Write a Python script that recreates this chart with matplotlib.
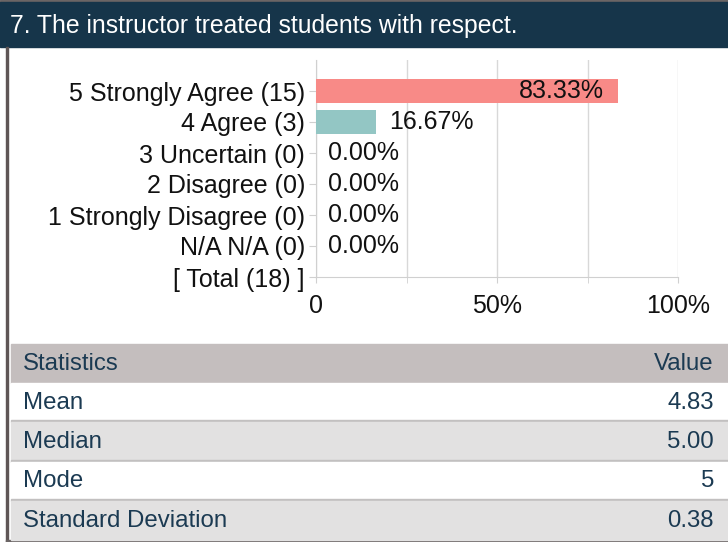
import matplotlib
matplotlib.use("Agg")
import matplotlib.pyplot as plt
from matplotlib.patches import Rectangle

categories = ["5 Strongly Agree (15)", "4 Agree (3)", "3 Uncertain (0)", "2 Disagree (0)",
              "1 Strongly Disagree (0)", "N/A N/A (0)", "[ Total (18) ]"]
percents = [83.33, 16.67, 0.0, 0.0, 0.0, 0.0, None]
bar_colors = ["#f88a87", "#93c6c4", "#f88a87", "#f88a87", "#f88a87", "#f88a87", "#f88a87"]
xticks = [0, 50, 100]
xticklabels = ["0", "50%", "100%"]
title = "7. The instructor treated students with respect."
stat_names = ["Mean", "Median", "Mode", "Standard Deviation"]
stat_values = ["4.83", "5.00", "5", "0.38"]

font = "Liberation Sans"

W, H = 728, 542
fig = plt.figure(figsize=(W / 100, H / 100), dpi=100)
fig.patch.set_facecolor("white")

def fx(x):
    return x / W

def fy(y):
    return 1 - y / H

# background decorations
bg = fig.add_axes([0, 0, 1, 1])
bg.set_xlim(0, W)
bg.set_ylim(H, 0)
bg.axis("off")
bg.add_patch(Rectangle((0, 0), W, 2, color="#6b6565"))
bg.add_patch(Rectangle((0, 2), W, 45, color="#16354a"))
bg.text(10, 26, title, color="white", fontsize=17.8, family=font, va="center", ha="left")
bg.add_patch(Rectangle((6, 47), 2, H - 47, color="#5f5656"))
bg.add_patch(Rectangle((6, 540), W, 2, color="#6b6565"))

# statistics table
txt_col = "#1b3a52"
tfs = 17.3
bg.add_patch(Rectangle((11, 344), W - 11, 39, color="#c4bebe"))
bg.text(23, 364, "Statistics", color=txt_col, fontsize=tfs, family=font, va="center")
bg.text(714, 364, "Value", color=txt_col, fontsize=tfs, family=font, va="center", ha="right")
row_top = 383
row_h = 39.3
for i, (n, v) in enumerate(zip(stat_names, stat_values)):
    y0 = row_top + i * row_h
    col = "white" if i % 2 == 0 else "#e2e1e1"
    bg.add_patch(Rectangle((11, y0), W - 11, row_h, color=col))
    if i < len(stat_names) - 1:
        bg.add_patch(Rectangle((11, y0 + row_h - 2), W - 11, 2, color="#c2c0c0"))
    bg.text(23, y0 + row_h / 2, n, color=txt_col, fontsize=tfs, family=font, va="center")
    bg.text(714, y0 + row_h / 2, v, color=txt_col, fontsize=tfs, family=font, va="center", ha="right")

# bar chart
fs = 18
ax = fig.add_axes([fx(316), fy(277), fx(678 - 316), (277 - 60) / H])
ypos = list(range(len(categories)))
vals = [p if p is not None else 0 for p in percents]
ax.barh(ypos, vals, height=0.75, color=bar_colors, zorder=3)
ax.set_ylim(6, -1)
ax.set_xlim(0, 100)
ax.set_yticks(ypos)
ax.set_yticklabels(categories, fontsize=fs, family=font, color="#111111")
ax.set_xticks(xticks)
ax.set_xticklabels(xticklabels, fontsize=fs, family=font, color="#111111")
ax.set_xticks([25, 75], minor=True)
ax.grid(True, axis="x", which="both", color="#d8d8d8", linewidth=1, zorder=0)
for s in ["top", "right"]:
    ax.spines[s].set_visible(False)
ax.spines["left"].set_color("#d0d0d0")
ax.spines["bottom"].set_color("#d0d0d0")
ax.tick_params(axis="y", length=5, color="#d0d0d0", pad=3)
ax.tick_params(axis="x", which="both", length=4, color="#d0d0d0", pad=8)
for y, p in zip(ypos, percents):
    if p is None:
        continue
    lab = f"{p:.2f}%"
    if p > 50:
        ax.text(p - 3.8, y, lab, ha="right", va="center", fontsize=fs, family=font, color="#111111", zorder=4)
    else:
        ax.text(p + 3.4, y, lab, ha="left", va="center", fontsize=fs, family=font, color="#111111", zorder=4)

fig.savefig("out.png", dpi=100, facecolor="white")
